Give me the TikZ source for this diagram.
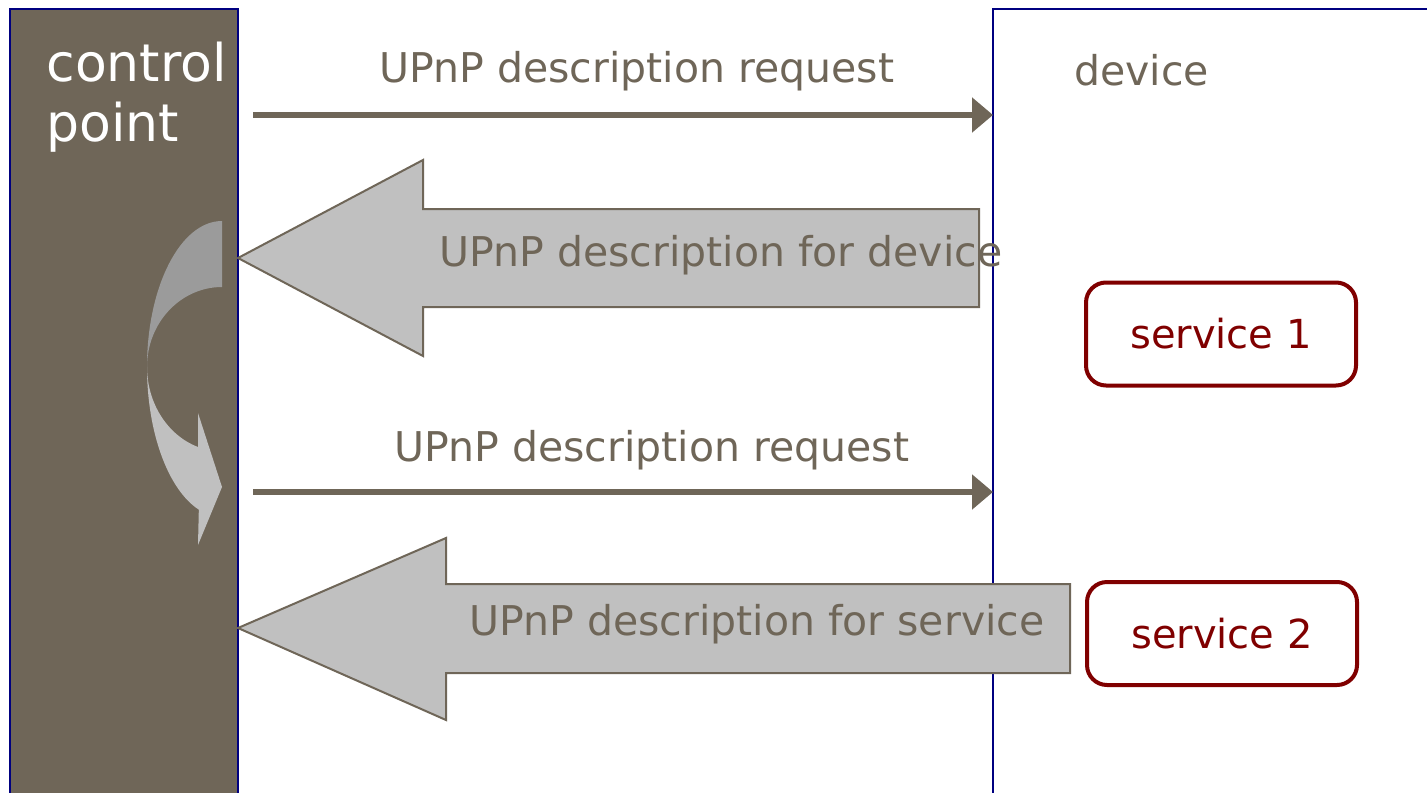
\documentclass[tikz,border=0pt]{standalone}
\usepackage{fontspec}
\setmainfont{DejaVu Sans}
\usetikzlibrary{arrows.meta}
\definecolor{brownish}{RGB}{111,102,88}
\definecolor{lgray}{RGB}{192,192,192}
\definecolor{dgray}{RGB}{155,155,155}
\definecolor{navyb}{RGB}{0,0,128}
\definecolor{dred}{RGB}{128,0,0}
\tikzset{
  lbl/.style={anchor=base west, inner sep=0pt, text=brownish, font=\fontsize{20.5}{24}\selectfont},
  thinarr/.style={draw=brownish, line width=3pt, -{Triangle[length=10.5pt,width=17pt]}},
  blockarr/.style={draw=brownish, line width=1pt, fill=lgray, line join=miter},
  svcbox/.style={draw=dred, line width=2pt, rounded corners=10pt, fill=white, minimum width=135pt, minimum height=51.5pt, text=dred, font=\fontsize{20}{24}\selectfont},
}
\begin{document}
\begin{tikzpicture}[x=0.5pt,y=-0.5pt]
\useasboundingbox (0,0) rectangle (1427,792);
\clip (0,0) rectangle (1427,792);
\fill[white] (0,0) rectangle (1427,792);
% columns
\node[draw=navyb, line width=0.8pt, fill=brownish, minimum width=114pt, minimum height=395.5pt, inner sep=0pt] (cp) at (124,404.5) {};
\node[draw=navyb, line width=0.8pt, fill=white, minimum width=223.5pt, minimum height=395.5pt, inner sep=0pt] (dev) at (1216.5,404.5) {};
\node[anchor=base west, inner sep=0pt, text=white, align=left, font=\fontsize{26}{30}\selectfont] (cplbl) at (46,141) {control\\point};
\node[lbl] (devlbl) at (1074,85) {device};
% curved arrow
\fill[dgray] (222,221) arc[start angle=270, end angle=180, x radius=75, y radius=146]
  arc[start angle=180, end angle=270, x radius=75, y radius=80] -- cycle;
\fill[lgray] (147,367) arc[start angle=180, end angle=108, x radius=75, y radius=150]
  -- (198,545) -- (222,487) -- (198,413) -- (198,447)
  arc[start angle=108.7, end angle=180, x radius=75, y radius=84.5] -- cycle;
% request arrows
\coordinate (s1) at (253,115);
\coordinate (e1) at (993,115);
\coordinate (s2) at (253,492);
\coordinate (e2) at (993,492);
\draw[thinarr] (s1) -- (e1);
\draw[thinarr] (s2) -- (e2);
\node[lbl] (req1) at (379,83) {UPnP description request};
\node[lbl] (req2) at (394,461) {UPnP description request};
% block arrows
\coordinate (t1) at (238,258);
\coordinate (t2) at (238,628);
\draw[blockarr] (t1) -- (423,160) -- (423,209) -- (979,209) -- (979,307) -- (423,307) -- (423,356) -- cycle;
\draw[blockarr] (t2) -- (446,538) -- (446,584) -- (1070,584) -- (1070,673) -- (446,673) -- (446,720) -- cycle;
\node[lbl] (desc1) at (439,266) {UPnP description for device};
\node[lbl] (desc2) at (469,635) {UPnP description for service};
% services
\node[svcbox] (sv1) at (1221,334) {service 1};
\node[svcbox] (sv2) at (1222,633.5) {service 2};
\end{tikzpicture}
\end{document}
